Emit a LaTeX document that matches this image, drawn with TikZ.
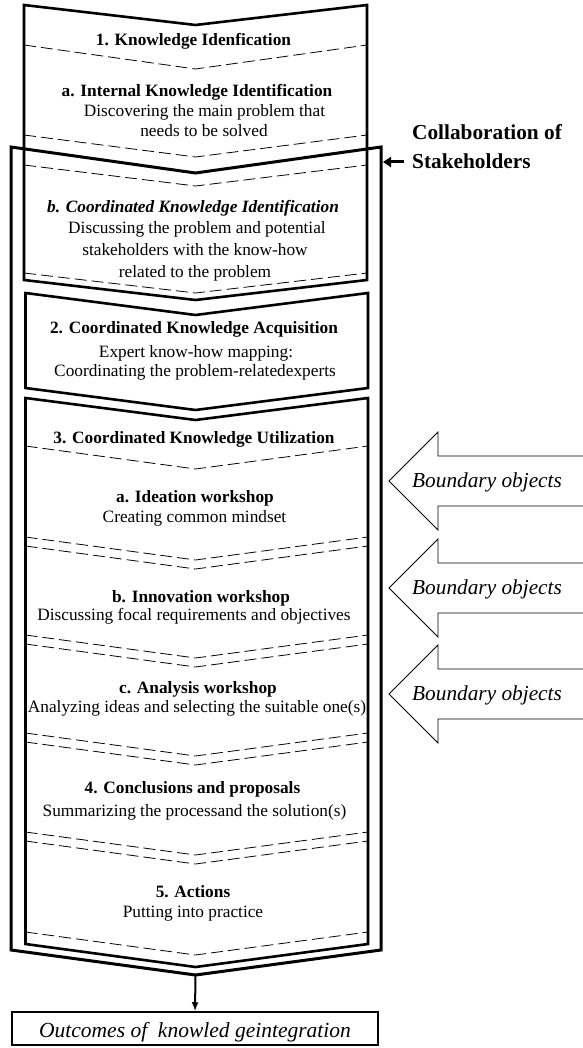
\documentclass[tikz,border=0pt]{standalone}
\usepackage{fontspec}
\setmainfont{Liberation Serif}
\usetikzlibrary{arrows.meta}
\begin{document}
\begin{tikzpicture}[x=1pt,y=-1pt,
  boxline/.style={line width=2.6pt, line join=miter},
  outerline/.style={line width=3pt, line join=miter},
  dashline/.style={line width=0.8pt, dash pattern=on 12pt off 5pt},
  txt/.style={anchor=base, inner sep=0pt, font=\fontsize{17.3}{20}\selectfont},
  hd/.style={anchor=base, inner sep=0pt, font=\fontsize{17.3}{20}\selectfont\bfseries},
  hdit/.style={anchor=base, inner sep=0pt, font=\fontsize{17.3}{20}\selectfont\bfseries\itshape},
  sidetext/.style={anchor=base west, inner sep=0pt, font=\fontsize{21.3}{24}\selectfont\itshape},
  bndarrow/.style={line width=0.9pt, line join=miter},
  bnd/.pic={
    \draw[bndarrow] (194,-25) -- (49,-25) -- (49,-49) -- (0,0) -- (49,49) -- (49,25) -- (194,25);
    \node[sidetext] (-label) at (23,6) {Boundary objects};
  }
]
\useasboundingbox (0,0) rectangle (582,1048);

% stage 1: knowledge identification
\draw[boxline] (24,280) -- (24,5) -- (195.5,25) -- (367,5) -- (367,280) -- (195.5,300) -- cycle;
\draw[dashline] (24,45) -- (195.5,69) -- (367,45);
\draw[dashline] (24,135) -- (195.5,157) -- (367,135);
\draw[dashline] (24,165) -- (195.5,186) -- (367,165);
\draw[dashline] (24,273) -- (195.5,293) -- (367,273);

% collaboration frame
\draw[outerline] (11,147) -- (195.5,173) -- (381,147) -- (381,950) -- (195.5,975) -- (11,950) -- cycle;
\coordinate (frametip) at (195.5,975);

% stage 2: acquisition
\draw[boxline] (25.5,293) -- (195.5,315) -- (368,293) -- (368,388) -- (195.5,410) -- (25.5,388) -- cycle;

% stage 3 to 5: utilization and beyond
\draw[boxline] (25.5,398) -- (195.5,420) -- (368,398) -- (368,944) -- (195.5,967) -- (25.5,944) -- cycle;
\draw[dashline] (25.5,446) -- (195.5,469) -- (368,446);
\foreach \y in {537,546,635,644,733,742,832,841,932}
  \draw[dashline] (25.5,\y) -- (195.5,\y+23) -- (368,\y);

% texts
\node[hd]  (t1)  at (193.5,46) {1. Knowledge Idenfication};
\node[hd]  (t1a) at (197,97)   {a. Internal Knowledge Identification};
\node[txt] (t1a1) at (204.5,117) {Discovering the main problem that};
\node[txt] (t1a2) at (204,137) {needs to be solved};
\node[hdit] (t1b) at (193,213) {b. Coordinated Knowledge Identification};
\node[txt] (t1b1) at (197,234) {Discussing the problem and potential};
\node[txt] (t1b2) at (195,256) {stakeholders with the know-how};
\node[txt] (t1b3) at (195,277) {related to the problem};

\node[hd]  (t2)  at (194,333) {2. Coordinated Knowledge Acquisition};
\node[txt] (t21) at (196,357) {Expert know-how mapping:};
\node[txt] (t22) at (195,376) {Coordinating the problem-relatedexperts};

\node[hd]  (t3)  at (194,443) {3. Coordinated Knowledge Utilization};
\node[hd]  (t3a) at (195,502) {a. Ideation workshop};
\node[txt] (t3a1) at (194.5,522) {Creating common mindset};
\node[hd]  (t3b) at (201,602) {b. Innovation workshop};
\node[txt] (t3b1) at (194,620) {Discussing focal requirements and objectives};
\node[hd]  (t3c) at (198,693) {c. Analysis workshop};
\node[txt] (t3c1) at (197,712) {Analyzing ideas and selecting the suitable one(s)};
\node[hd]  (t4)  at (192.5,793) {4. Conclusions and proposals};
\node[txt] (t41) at (194.5,816) {Summarizing the processand the solution(s)};
\node[hd]  (t5)  at (193,897) {5. Actions};
\node[txt] (t51) at (193,917) {Putting into practice};

% collaboration label with its arrow
\node[anchor=base west, inner sep=0pt, align=left,
      font=\fontsize{21.3}{29}\selectfont\bfseries] (collab) at (412,169)
      {Collaboration of\\Stakeholders};
\coordinate (ctail) at (404,162);
\coordinate (ctip) at (383,162);
\draw[line width=3pt, -{Triangle[length=8pt,width=10pt]}] (ctail) -- (ctip);

% boundary objects
\pic (bo1) at (389,481) {bnd};
\pic (bo2) at (389,588) {bnd};
\pic (bo3) at (389,694) {bnd};

% outcome
\node[draw, line width=1.5pt, minimum width=366pt, minimum height=33pt,
      text height=17pt, text depth=0pt, inner sep=0pt,
      font=\fontsize{21.5}{24}\selectfont\itshape] (outcome) at (195,1028.5)
      {Outcomes of\ \ knowled geintegration};
\draw[line width=2pt, -{Latex[length=9pt,width=7pt]}] (frametip) -- (outcome.north);
\end{tikzpicture}
\end{document}
